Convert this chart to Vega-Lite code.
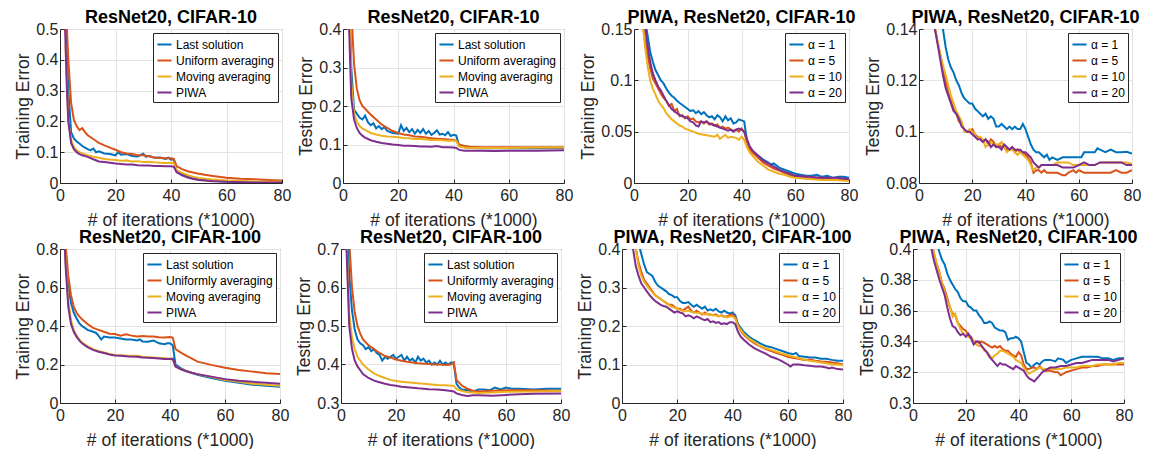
{
"$schema":"https://vega.github.io/schema/vega-lite/v6.json",
"background":"white",
"padding":{"left":14,"top":8,"right":0,"bottom":0},
"datasets":{
"p1":[
{"s":0,"x":2,"y":0.55},{"s":0,"x":3,"y":0.3},{"s":0,"x":4,"y":0.165},{"s":0,"x":5,"y":0.145},{"s":0,"x":6,"y":0.135},{"s":0,"x":7,"y":0.128},{"s":0,"x":8,"y":0.12},{"s":0,"x":9,"y":0.115},{"s":0,"x":10,"y":0.11},{"s":0,"x":11,"y":0.106},{"s":0,"x":12,"y":0.112},{"s":0,"x":13,"y":0.1},{"s":0,"x":14,"y":0.103},{"s":0,"x":16,"y":0.096},{"s":0,"x":18,"y":0.094},{"s":0,"x":20,"y":0.09},{"s":0,"x":21,"y":0.1},{"s":0,"x":22,"y":0.092},{"s":0,"x":24,"y":0.094},{"s":0,"x":26,"y":0.088},{"s":0,"x":28,"y":0.086},{"s":0,"x":30,"y":0.095},{"s":0,"x":31,"y":0.085},{"s":0,"x":32,"y":0.088},{"s":0,"x":34,"y":0.082},{"s":0,"x":36,"y":0.083},{"s":0,"x":38,"y":0.078},{"s":0,"x":39,"y":0.082},{"s":0,"x":40,"y":0.076},{"s":0,"x":41,"y":0.077},{"s":0,"x":42,"y":0.04},{"s":0,"x":44,"y":0.03},{"s":0,"x":46,"y":0.022},{"s":0,"x":48,"y":0.016},{"s":0,"x":50,"y":0.012},{"s":0,"x":55,"y":0.007},{"s":0,"x":60,"y":0.005},{"s":0,"x":70,"y":0.003},{"s":0,"x":80,"y":0.002},
{"s":1,"x":2,"y":0.6},{"s":1,"x":3,"y":0.4},{"s":1,"x":4,"y":0.26},{"s":1,"x":5,"y":0.205},{"s":1,"x":6,"y":0.185},{"s":1,"x":7,"y":0.172},{"s":1,"x":8,"y":0.178},{"s":1,"x":9,"y":0.165},{"s":1,"x":10,"y":0.155},{"s":1,"x":12,"y":0.143},{"s":1,"x":14,"y":0.13},{"s":1,"x":16,"y":0.122},{"s":1,"x":18,"y":0.115},{"s":1,"x":20,"y":0.108},{"s":1,"x":22,"y":0.1},{"s":1,"x":24,"y":0.096},{"s":1,"x":26,"y":0.094},{"s":1,"x":28,"y":0.09},{"s":1,"x":30,"y":0.09},{"s":1,"x":32,"y":0.087},{"s":1,"x":34,"y":0.083},{"s":1,"x":36,"y":0.082},{"s":1,"x":38,"y":0.08},{"s":1,"x":40,"y":0.08},{"s":1,"x":41,"y":0.078},{"s":1,"x":42,"y":0.055},{"s":1,"x":44,"y":0.045},{"s":1,"x":46,"y":0.038},{"s":1,"x":48,"y":0.034},{"s":1,"x":50,"y":0.03},{"s":1,"x":55,"y":0.023},{"s":1,"x":60,"y":0.017},{"s":1,"x":65,"y":0.014},{"s":1,"x":70,"y":0.012},{"s":1,"x":75,"y":0.01},{"s":1,"x":80,"y":0.008},
{"s":2,"x":2,"y":0.45},{"s":2,"x":3,"y":0.2},{"s":2,"x":4,"y":0.14},{"s":2,"x":5,"y":0.117},{"s":2,"x":6,"y":0.106},{"s":2,"x":7,"y":0.1},{"s":2,"x":8,"y":0.096},{"s":2,"x":10,"y":0.09},{"s":2,"x":12,"y":0.085},{"s":2,"x":14,"y":0.082},{"s":2,"x":16,"y":0.078},{"s":2,"x":18,"y":0.076},{"s":2,"x":20,"y":0.075},{"s":2,"x":22,"y":0.072},{"s":2,"x":24,"y":0.073},{"s":2,"x":26,"y":0.07},{"s":2,"x":28,"y":0.071},{"s":2,"x":30,"y":0.068},{"s":2,"x":32,"y":0.069},{"s":2,"x":34,"y":0.067},{"s":2,"x":36,"y":0.066},{"s":2,"x":38,"y":0.065},{"s":2,"x":40,"y":0.066},{"s":2,"x":41,"y":0.064},{"s":2,"x":42,"y":0.042},{"s":2,"x":44,"y":0.033},{"s":2,"x":46,"y":0.026},{"s":2,"x":48,"y":0.02},{"s":2,"x":50,"y":0.016},{"s":2,"x":55,"y":0.011},{"s":2,"x":60,"y":0.008},{"s":2,"x":70,"y":0.005},{"s":2,"x":80,"y":0.004},
{"s":3,"x":1.5,"y":0.6},{"s":3,"x":2.5,"y":0.3},{"s":3,"x":3,"y":0.2},{"s":3,"x":4,"y":0.13},{"s":3,"x":5,"y":0.11},{"s":3,"x":6,"y":0.1},{"s":3,"x":7,"y":0.094},{"s":3,"x":8,"y":0.09},{"s":3,"x":10,"y":0.085},{"s":3,"x":12,"y":0.077},{"s":3,"x":14,"y":0.07},{"s":3,"x":16,"y":0.068},{"s":3,"x":18,"y":0.066},{"s":3,"x":20,"y":0.063},{"s":3,"x":22,"y":0.062},{"s":3,"x":24,"y":0.06},{"s":3,"x":26,"y":0.06},{"s":3,"x":28,"y":0.058},{"s":3,"x":30,"y":0.057},{"s":3,"x":32,"y":0.057},{"s":3,"x":34,"y":0.055},{"s":3,"x":36,"y":0.055},{"s":3,"x":38,"y":0.054},{"s":3,"x":40,"y":0.054},{"s":3,"x":41,"y":0.053},{"s":3,"x":42,"y":0.035},{"s":3,"x":44,"y":0.025},{"s":3,"x":46,"y":0.018},{"s":3,"x":48,"y":0.013},{"s":3,"x":50,"y":0.01},{"s":3,"x":55,"y":0.006},{"s":3,"x":60,"y":0.004},{"s":3,"x":70,"y":0.002},{"s":3,"x":80,"y":0.002}
],
"p2":[
{"s":0,"x":2.5,"y":0.45},{"s":0,"x":3,"y":0.3},{"s":0,"x":4,"y":0.19},{"s":0,"x":5,"y":0.18},{"s":0,"x":6,"y":0.17},{"s":0,"x":7,"y":0.165},{"s":0,"x":8,"y":0.175},{"s":0,"x":9,"y":0.158},{"s":0,"x":10,"y":0.15},{"s":0,"x":11,"y":0.155},{"s":0,"x":12,"y":0.142},{"s":0,"x":13,"y":0.148},{"s":0,"x":14,"y":0.14},{"s":0,"x":15,"y":0.145},{"s":0,"x":16,"y":0.135},{"s":0,"x":18,"y":0.13},{"s":0,"x":20,"y":0.128},{"s":0,"x":21,"y":0.15},{"s":0,"x":22,"y":0.135},{"s":0,"x":23,"y":0.143},{"s":0,"x":24,"y":0.132},{"s":0,"x":25,"y":0.14},{"s":0,"x":26,"y":0.128},{"s":0,"x":27,"y":0.138},{"s":0,"x":28,"y":0.13},{"s":0,"x":29,"y":0.14},{"s":0,"x":30,"y":0.128},{"s":0,"x":31,"y":0.135},{"s":0,"x":32,"y":0.125},{"s":0,"x":33,"y":0.13},{"s":0,"x":34,"y":0.137},{"s":0,"x":35,"y":0.126},{"s":0,"x":36,"y":0.128},{"s":0,"x":37,"y":0.124},{"s":0,"x":38,"y":0.132},{"s":0,"x":39,"y":0.122},{"s":0,"x":40,"y":0.125},{"s":0,"x":41,"y":0.123},{"s":0,"x":42,"y":0.097},{"s":0,"x":44,"y":0.093},{"s":0,"x":46,"y":0.091},{"s":0,"x":50,"y":0.09},{"s":0,"x":55,"y":0.09},{"s":0,"x":60,"y":0.09},{"s":0,"x":70,"y":0.09},{"s":0,"x":80,"y":0.091},
{"s":1,"x":3,"y":0.45},{"s":1,"x":4,"y":0.31},{"s":1,"x":5,"y":0.245},{"s":1,"x":6,"y":0.215},{"s":1,"x":7,"y":0.2},{"s":1,"x":8,"y":0.193},{"s":1,"x":9,"y":0.185},{"s":1,"x":10,"y":0.178},{"s":1,"x":12,"y":0.165},{"s":1,"x":14,"y":0.152},{"s":1,"x":16,"y":0.143},{"s":1,"x":18,"y":0.135},{"s":1,"x":20,"y":0.13},{"s":1,"x":22,"y":0.126},{"s":1,"x":24,"y":0.124},{"s":1,"x":26,"y":0.121},{"s":1,"x":28,"y":0.12},{"s":1,"x":30,"y":0.118},{"s":1,"x":32,"y":0.116},{"s":1,"x":34,"y":0.115},{"s":1,"x":36,"y":0.114},{"s":1,"x":38,"y":0.113},{"s":1,"x":40,"y":0.112},{"s":1,"x":41,"y":0.11},{"s":1,"x":42,"y":0.1},{"s":1,"x":44,"y":0.096},{"s":1,"x":46,"y":0.094},{"s":1,"x":50,"y":0.093},{"s":1,"x":60,"y":0.093},{"s":1,"x":70,"y":0.093},{"s":1,"x":80,"y":0.093},
{"s":2,"x":2.5,"y":0.45},{"s":2,"x":3,"y":0.26},{"s":2,"x":4,"y":0.18},{"s":2,"x":5,"y":0.16},{"s":2,"x":6,"y":0.148},{"s":2,"x":7,"y":0.142},{"s":2,"x":8,"y":0.138},{"s":2,"x":10,"y":0.13},{"s":2,"x":12,"y":0.126},{"s":2,"x":14,"y":0.123},{"s":2,"x":16,"y":0.121},{"s":2,"x":18,"y":0.12},{"s":2,"x":20,"y":0.119},{"s":2,"x":22,"y":0.117},{"s":2,"x":24,"y":0.116},{"s":2,"x":26,"y":0.114},{"s":2,"x":28,"y":0.114},{"s":2,"x":30,"y":0.113},{"s":2,"x":32,"y":0.112},{"s":2,"x":34,"y":0.112},{"s":2,"x":36,"y":0.111},{"s":2,"x":38,"y":0.11},{"s":2,"x":40,"y":0.11},{"s":2,"x":41,"y":0.109},{"s":2,"x":42,"y":0.095},{"s":2,"x":44,"y":0.092},{"s":2,"x":46,"y":0.091},{"s":2,"x":50,"y":0.091},{"s":2,"x":60,"y":0.091},{"s":2,"x":70,"y":0.092},{"s":2,"x":80,"y":0.092},
{"s":3,"x":2,"y":0.45},{"s":3,"x":3,"y":0.22},{"s":3,"x":4,"y":0.165},{"s":3,"x":5,"y":0.143},{"s":3,"x":6,"y":0.13},{"s":3,"x":7,"y":0.123},{"s":3,"x":8,"y":0.118},{"s":3,"x":10,"y":0.111},{"s":3,"x":12,"y":0.107},{"s":3,"x":14,"y":0.104},{"s":3,"x":16,"y":0.102},{"s":3,"x":18,"y":0.1},{"s":3,"x":20,"y":0.099},{"s":3,"x":22,"y":0.097},{"s":3,"x":24,"y":0.097},{"s":3,"x":26,"y":0.096},{"s":3,"x":28,"y":0.095},{"s":3,"x":30,"y":0.095},{"s":3,"x":32,"y":0.094},{"s":3,"x":34,"y":0.096},{"s":3,"x":36,"y":0.093},{"s":3,"x":38,"y":0.093},{"s":3,"x":40,"y":0.092},{"s":3,"x":41,"y":0.091},{"s":3,"x":42,"y":0.086},{"s":3,"x":44,"y":0.084},{"s":3,"x":46,"y":0.084},{"s":3,"x":50,"y":0.084},{"s":3,"x":55,"y":0.083},{"s":3,"x":60,"y":0.084},{"s":3,"x":70,"y":0.084},{"s":3,"x":80,"y":0.085}
],
"p3":[
{"s":0,"x":3,"y":0.2},{"s":0,"x":4.5,"y":0.152},{"s":0,"x":5,"y":0.145},{"s":0,"x":6,"y":0.128},{"s":0,"x":7,"y":0.118},{"s":0,"x":8,"y":0.11},{"s":0,"x":9,"y":0.105},{"s":0,"x":10,"y":0.1},{"s":0,"x":11,"y":0.097},{"s":0,"x":12,"y":0.092},{"s":0,"x":13,"y":0.088},{"s":0,"x":14,"y":0.085},{"s":0,"x":15,"y":0.083},{"s":0,"x":16,"y":0.08},{"s":0,"x":17,"y":0.078},{"s":0,"x":18,"y":0.076},{"s":0,"x":19,"y":0.074},{"s":0,"x":20,"y":0.072},{"s":0,"x":21,"y":0.07},{"s":0,"x":22,"y":0.071},{"s":0,"x":23,"y":0.068},{"s":0,"x":24,"y":0.07},{"s":0,"x":25,"y":0.067},{"s":0,"x":26,"y":0.069},{"s":0,"x":27,"y":0.066},{"s":0,"x":28,"y":0.064},{"s":0,"x":29,"y":0.065},{"s":0,"x":30,"y":0.062},{"s":0,"x":31,"y":0.066},{"s":0,"x":32,"y":0.064},{"s":0,"x":33,"y":0.06},{"s":0,"x":34,"y":0.065},{"s":0,"x":35,"y":0.061},{"s":0,"x":36,"y":0.063},{"s":0,"x":37,"y":0.058},{"s":0,"x":38,"y":0.059},{"s":0,"x":39,"y":0.062},{"s":0,"x":40,"y":0.061},{"s":0,"x":41,"y":0.06},{"s":0,"x":42,"y":0.042},{"s":0,"x":43,"y":0.035},{"s":0,"x":44,"y":0.031},{"s":0,"x":46,"y":0.027},{"s":0,"x":48,"y":0.023},{"s":0,"x":50,"y":0.02},{"s":0,"x":51,"y":0.018},{"s":0,"x":52,"y":0.019},{"s":0,"x":54,"y":0.015},{"s":0,"x":56,"y":0.013},{"s":0,"x":58,"y":0.011},{"s":0,"x":60,"y":0.009},{"s":0,"x":62,"y":0.008},{"s":0,"x":64,"y":0.007},{"s":0,"x":66,"y":0.007},{"s":0,"x":68,"y":0.008},{"s":0,"x":70,"y":0.006},{"s":0,"x":72,"y":0.007},{"s":0,"x":74,"y":0.005},{"s":0,"x":76,"y":0.006},{"s":0,"x":78,"y":0.006},{"s":0,"x":80,"y":0.005},
{"s":1,"x":2,"y":0.2},{"s":1,"x":3.5,"y":0.15},{"s":1,"x":4,"y":0.14},{"s":1,"x":5,"y":0.125},{"s":1,"x":6,"y":0.112},{"s":1,"x":7,"y":0.102},{"s":1,"x":8,"y":0.097},{"s":1,"x":9,"y":0.092},{"s":1,"x":10,"y":0.087},{"s":1,"x":11,"y":0.083},{"s":1,"x":12,"y":0.08},{"s":1,"x":13,"y":0.075},{"s":1,"x":14,"y":0.077},{"s":1,"x":15,"y":0.07},{"s":1,"x":16,"y":0.072},{"s":1,"x":17,"y":0.065},{"s":1,"x":18,"y":0.066},{"s":1,"x":19,"y":0.063},{"s":1,"x":20,"y":0.065},{"s":1,"x":21,"y":0.062},{"s":1,"x":22,"y":0.063},{"s":1,"x":23,"y":0.06},{"s":1,"x":24,"y":0.059},{"s":1,"x":25,"y":0.06},{"s":1,"x":26,"y":0.058},{"s":1,"x":27,"y":0.06},{"s":1,"x":28,"y":0.057},{"s":1,"x":29,"y":0.058},{"s":1,"x":30,"y":0.056},{"s":1,"x":31,"y":0.057},{"s":1,"x":32,"y":0.054},{"s":1,"x":33,"y":0.055},{"s":1,"x":34,"y":0.053},{"s":1,"x":35,"y":0.054},{"s":1,"x":36,"y":0.052},{"s":1,"x":37,"y":0.051},{"s":1,"x":38,"y":0.052},{"s":1,"x":39,"y":0.05},{"s":1,"x":40,"y":0.053},{"s":1,"x":41,"y":0.05},{"s":1,"x":42,"y":0.04},{"s":1,"x":43,"y":0.033},{"s":1,"x":44,"y":0.03},{"s":1,"x":46,"y":0.025},{"s":1,"x":48,"y":0.02},{"s":1,"x":50,"y":0.017},{"s":1,"x":52,"y":0.014},{"s":1,"x":54,"y":0.012},{"s":1,"x":56,"y":0.01},{"s":1,"x":58,"y":0.008},{"s":1,"x":60,"y":0.006},{"s":1,"x":62,"y":0.005},{"s":1,"x":64,"y":0.005},{"s":1,"x":66,"y":0.004},{"s":1,"x":68,"y":0.004},{"s":1,"x":70,"y":0.004},{"s":1,"x":72,"y":0.004},{"s":1,"x":74,"y":0.004},{"s":1,"x":76,"y":0.003},{"s":1,"x":78,"y":0.003},{"s":1,"x":80,"y":0.003},
{"s":2,"x":2,"y":0.2},{"s":2,"x":3.5,"y":0.15},{"s":2,"x":4,"y":0.135},{"s":2,"x":5,"y":0.115},{"s":2,"x":6,"y":0.1},{"s":2,"x":7,"y":0.092},{"s":2,"x":8,"y":0.086},{"s":2,"x":9,"y":0.08},{"s":2,"x":10,"y":0.076},{"s":2,"x":11,"y":0.073},{"s":2,"x":12,"y":0.068},{"s":2,"x":13,"y":0.065},{"s":2,"x":14,"y":0.062},{"s":2,"x":15,"y":0.06},{"s":2,"x":16,"y":0.058},{"s":2,"x":17,"y":0.056},{"s":2,"x":18,"y":0.055},{"s":2,"x":19,"y":0.053},{"s":2,"x":20,"y":0.052},{"s":2,"x":22,"y":0.05},{"s":2,"x":24,"y":0.048},{"s":2,"x":26,"y":0.047},{"s":2,"x":28,"y":0.046},{"s":2,"x":30,"y":0.045},{"s":2,"x":31,"y":0.047},{"s":2,"x":32,"y":0.043},{"s":2,"x":33,"y":0.045},{"s":2,"x":34,"y":0.047},{"s":2,"x":35,"y":0.044},{"s":2,"x":36,"y":0.045},{"s":2,"x":38,"y":0.044},{"s":2,"x":39,"y":0.042},{"s":2,"x":40,"y":0.045},{"s":2,"x":41,"y":0.042},{"s":2,"x":42,"y":0.035},{"s":2,"x":43,"y":0.03},{"s":2,"x":44,"y":0.027},{"s":2,"x":46,"y":0.021},{"s":2,"x":48,"y":0.017},{"s":2,"x":50,"y":0.013},{"s":2,"x":52,"y":0.011},{"s":2,"x":54,"y":0.009},{"s":2,"x":56,"y":0.008},{"s":2,"x":58,"y":0.006},{"s":2,"x":60,"y":0.005},{"s":2,"x":65,"y":0.004},{"s":2,"x":70,"y":0.003},{"s":2,"x":75,"y":0.003},{"s":2,"x":80,"y":0.002},
{"s":3,"x":3,"y":0.2},{"s":3,"x":4,"y":0.155},{"s":3,"x":5,"y":0.135},{"s":3,"x":6,"y":0.118},{"s":3,"x":7,"y":0.107},{"s":3,"x":8,"y":0.1},{"s":3,"x":9,"y":0.094},{"s":3,"x":10,"y":0.09},{"s":3,"x":11,"y":0.085},{"s":3,"x":12,"y":0.08},{"s":3,"x":13,"y":0.076},{"s":3,"x":14,"y":0.072},{"s":3,"x":15,"y":0.07},{"s":3,"x":16,"y":0.068},{"s":3,"x":17,"y":0.066},{"s":3,"x":18,"y":0.065},{"s":3,"x":19,"y":0.064},{"s":3,"x":20,"y":0.063},{"s":3,"x":21,"y":0.06},{"s":3,"x":22,"y":0.059},{"s":3,"x":23,"y":0.056},{"s":3,"x":24,"y":0.055},{"s":3,"x":25,"y":0.06},{"s":3,"x":26,"y":0.059},{"s":3,"x":27,"y":0.06},{"s":3,"x":28,"y":0.058},{"s":3,"x":29,"y":0.057},{"s":3,"x":30,"y":0.056},{"s":3,"x":31,"y":0.055},{"s":3,"x":32,"y":0.054},{"s":3,"x":33,"y":0.053},{"s":3,"x":34,"y":0.052},{"s":3,"x":35,"y":0.051},{"s":3,"x":36,"y":0.052},{"s":3,"x":37,"y":0.05},{"s":3,"x":38,"y":0.052},{"s":3,"x":39,"y":0.053},{"s":3,"x":40,"y":0.052},{"s":3,"x":41,"y":0.05},{"s":3,"x":42,"y":0.043},{"s":3,"x":43,"y":0.036},{"s":3,"x":44,"y":0.032},{"s":3,"x":46,"y":0.027},{"s":3,"x":48,"y":0.022},{"s":3,"x":50,"y":0.019},{"s":3,"x":52,"y":0.016},{"s":3,"x":54,"y":0.013},{"s":3,"x":56,"y":0.011},{"s":3,"x":58,"y":0.009},{"s":3,"x":60,"y":0.007},{"s":3,"x":65,"y":0.006},{"s":3,"x":70,"y":0.005},{"s":3,"x":75,"y":0.005},{"s":3,"x":80,"y":0.004}
],
"p4":[
{"s":0,"x":7,"y":0.15},{"s":0,"x":9,"y":0.14},{"s":0,"x":10,"y":0.133},{"s":0,"x":11,"y":0.128},{"s":0,"x":12,"y":0.125},{"s":0,"x":13,"y":0.123},{"s":0,"x":14,"y":0.12},{"s":0,"x":15,"y":0.118},{"s":0,"x":16,"y":0.115},{"s":0,"x":17,"y":0.113},{"s":0,"x":18,"y":0.112},{"s":0,"x":19,"y":0.111},{"s":0,"x":20,"y":0.111},{"s":0,"x":21,"y":0.109},{"s":0,"x":22,"y":0.108},{"s":0,"x":23,"y":0.107},{"s":0,"x":24,"y":0.106},{"s":0,"x":25,"y":0.107},{"s":0,"x":26,"y":0.105},{"s":0,"x":27,"y":0.106},{"s":0,"x":28,"y":0.105},{"s":0,"x":29,"y":0.102},{"s":0,"x":30,"y":0.102},{"s":0,"x":31,"y":0.103},{"s":0,"x":32,"y":0.102},{"s":0,"x":33,"y":0.101},{"s":0,"x":34,"y":0.102},{"s":0,"x":35,"y":0.101},{"s":0,"x":36,"y":0.102},{"s":0,"x":37,"y":0.101},{"s":0,"x":38,"y":0.101},{"s":0,"x":39,"y":0.103},{"s":0,"x":40,"y":0.101},{"s":0,"x":41,"y":0.098},{"s":0,"x":42,"y":0.095},{"s":0,"x":43,"y":0.093},{"s":0,"x":44,"y":0.092},{"s":0,"x":45,"y":0.092},{"s":0,"x":46,"y":0.091},{"s":0,"x":47,"y":0.09},{"s":0,"x":48,"y":0.091},{"s":0,"x":49,"y":0.089},{"s":0,"x":50,"y":0.09},{"s":0,"x":52,"y":0.089},{"s":0,"x":54,"y":0.09},{"s":0,"x":56,"y":0.09},{"s":0,"x":58,"y":0.09},{"s":0,"x":60,"y":0.09},{"s":0,"x":61,"y":0.09},{"s":0,"x":62,"y":0.092},{"s":0,"x":64,"y":0.092},{"s":0,"x":66,"y":0.092},{"s":0,"x":67,"y":0.0935},{"s":0,"x":68,"y":0.093},{"s":0,"x":70,"y":0.092},{"s":0,"x":72,"y":0.093},{"s":0,"x":74,"y":0.092},{"s":0,"x":76,"y":0.092},{"s":0,"x":78,"y":0.0922},{"s":0,"x":80,"y":0.0915},
{"s":1,"x":5,"y":0.15},{"s":1,"x":6,"y":0.14},{"s":1,"x":7,"y":0.135},{"s":1,"x":8,"y":0.13},{"s":1,"x":9,"y":0.124},{"s":1,"x":10,"y":0.12},{"s":1,"x":11,"y":0.115},{"s":1,"x":12,"y":0.112},{"s":1,"x":13,"y":0.109},{"s":1,"x":14,"y":0.107},{"s":1,"x":15,"y":0.104},{"s":1,"x":16,"y":0.103},{"s":1,"x":17,"y":0.101},{"s":1,"x":18,"y":0.1},{"s":1,"x":19,"y":0.1},{"s":1,"x":20,"y":0.101},{"s":1,"x":21,"y":0.099},{"s":1,"x":22,"y":0.098},{"s":1,"x":23,"y":0.097},{"s":1,"x":24,"y":0.096},{"s":1,"x":25,"y":0.097},{"s":1,"x":26,"y":0.095},{"s":1,"x":27,"y":0.097},{"s":1,"x":28,"y":0.096},{"s":1,"x":29,"y":0.094},{"s":1,"x":30,"y":0.095},{"s":1,"x":31,"y":0.094},{"s":1,"x":32,"y":0.094},{"s":1,"x":33,"y":0.093},{"s":1,"x":34,"y":0.093},{"s":1,"x":35,"y":0.094},{"s":1,"x":36,"y":0.092},{"s":1,"x":37,"y":0.093},{"s":1,"x":38,"y":0.092},{"s":1,"x":39,"y":0.092},{"s":1,"x":40,"y":0.091},{"s":1,"x":41,"y":0.09},{"s":1,"x":42,"y":0.088},{"s":1,"x":43,"y":0.084},{"s":1,"x":44,"y":0.085},{"s":1,"x":45,"y":0.085},{"s":1,"x":46,"y":0.084},{"s":1,"x":47,"y":0.085},{"s":1,"x":48,"y":0.084},{"s":1,"x":50,"y":0.084},{"s":1,"x":52,"y":0.084},{"s":1,"x":54,"y":0.083},{"s":1,"x":55,"y":0.083},{"s":1,"x":56,"y":0.084},{"s":1,"x":58,"y":0.085},{"s":1,"x":59,"y":0.084},{"s":1,"x":60,"y":0.085},{"s":1,"x":62,"y":0.084},{"s":1,"x":64,"y":0.084},{"s":1,"x":66,"y":0.084},{"s":1,"x":68,"y":0.084},{"s":1,"x":70,"y":0.084},{"s":1,"x":72,"y":0.084},{"s":1,"x":74,"y":0.085},{"s":1,"x":76,"y":0.084},{"s":1,"x":78,"y":0.084},{"s":1,"x":80,"y":0.085},
{"s":2,"x":5,"y":0.15},{"s":2,"x":6,"y":0.14},{"s":2,"x":7,"y":0.135},{"s":2,"x":8,"y":0.13},{"s":2,"x":9,"y":0.126},{"s":2,"x":10,"y":0.122},{"s":2,"x":11,"y":0.118},{"s":2,"x":12,"y":0.114},{"s":2,"x":13,"y":0.111},{"s":2,"x":14,"y":0.108},{"s":2,"x":15,"y":0.106},{"s":2,"x":16,"y":0.104},{"s":2,"x":17,"y":0.1},{"s":2,"x":18,"y":0.1},{"s":2,"x":19,"y":0.101},{"s":2,"x":20,"y":0.1},{"s":2,"x":21,"y":0.099},{"s":2,"x":22,"y":0.097},{"s":2,"x":23,"y":0.098},{"s":2,"x":24,"y":0.097},{"s":2,"x":25,"y":0.094},{"s":2,"x":26,"y":0.095},{"s":2,"x":27,"y":0.096},{"s":2,"x":28,"y":0.095},{"s":2,"x":29,"y":0.095},{"s":2,"x":30,"y":0.095},{"s":2,"x":31,"y":0.096},{"s":2,"x":32,"y":0.094},{"s":2,"x":33,"y":0.092},{"s":2,"x":34,"y":0.093},{"s":2,"x":35,"y":0.093},{"s":2,"x":36,"y":0.092},{"s":2,"x":37,"y":0.091},{"s":2,"x":38,"y":0.092},{"s":2,"x":39,"y":0.091},{"s":2,"x":40,"y":0.09},{"s":2,"x":41,"y":0.089},{"s":2,"x":42,"y":0.087},{"s":2,"x":43,"y":0.085},{"s":2,"x":44,"y":0.086},{"s":2,"x":45,"y":0.086},{"s":2,"x":46,"y":0.087},{"s":2,"x":48,"y":0.087},{"s":2,"x":50,"y":0.087},{"s":2,"x":52,"y":0.088},{"s":2,"x":54,"y":0.088},{"s":2,"x":56,"y":0.088},{"s":2,"x":58,"y":0.087},{"s":2,"x":60,"y":0.087},{"s":2,"x":62,"y":0.087},{"s":2,"x":64,"y":0.087},{"s":2,"x":66,"y":0.087},{"s":2,"x":68,"y":0.088},{"s":2,"x":70,"y":0.088},{"s":2,"x":72,"y":0.088},{"s":2,"x":74,"y":0.088},{"s":2,"x":76,"y":0.088},{"s":2,"x":78,"y":0.088},{"s":2,"x":80,"y":0.0875},
{"s":3,"x":5,"y":0.15},{"s":3,"x":6,"y":0.14},{"s":3,"x":7,"y":0.134},{"s":3,"x":8,"y":0.128},{"s":3,"x":9,"y":0.122},{"s":3,"x":10,"y":0.117},{"s":3,"x":11,"y":0.114},{"s":3,"x":12,"y":0.111},{"s":3,"x":13,"y":0.108},{"s":3,"x":14,"y":0.107},{"s":3,"x":15,"y":0.105},{"s":3,"x":16,"y":0.102},{"s":3,"x":17,"y":0.101},{"s":3,"x":18,"y":0.1},{"s":3,"x":19,"y":0.1},{"s":3,"x":20,"y":0.099},{"s":3,"x":21,"y":0.098},{"s":3,"x":22,"y":0.097},{"s":3,"x":23,"y":0.097},{"s":3,"x":24,"y":0.096},{"s":3,"x":25,"y":0.097},{"s":3,"x":26,"y":0.096},{"s":3,"x":27,"y":0.094},{"s":3,"x":28,"y":0.095},{"s":3,"x":29,"y":0.094},{"s":3,"x":30,"y":0.094},{"s":3,"x":31,"y":0.093},{"s":3,"x":32,"y":0.095},{"s":3,"x":33,"y":0.094},{"s":3,"x":34,"y":0.093},{"s":3,"x":35,"y":0.094},{"s":3,"x":36,"y":0.093},{"s":3,"x":37,"y":0.093},{"s":3,"x":38,"y":0.093},{"s":3,"x":39,"y":0.092},{"s":3,"x":40,"y":0.092},{"s":3,"x":41,"y":0.091},{"s":3,"x":42,"y":0.09},{"s":3,"x":43,"y":0.088},{"s":3,"x":44,"y":0.087},{"s":3,"x":45,"y":0.086},{"s":3,"x":46,"y":0.087},{"s":3,"x":48,"y":0.087},{"s":3,"x":50,"y":0.087},{"s":3,"x":52,"y":0.087},{"s":3,"x":54,"y":0.086},{"s":3,"x":56,"y":0.086},{"s":3,"x":58,"y":0.086},{"s":3,"x":60,"y":0.087},{"s":3,"x":62,"y":0.088},{"s":3,"x":64,"y":0.087},{"s":3,"x":66,"y":0.087},{"s":3,"x":68,"y":0.088},{"s":3,"x":70,"y":0.088},{"s":3,"x":72,"y":0.088},{"s":3,"x":74,"y":0.088},{"s":3,"x":76,"y":0.088},{"s":3,"x":78,"y":0.087},{"s":3,"x":80,"y":0.087}
],
"p5":[
{"s":0,"x":1.5,"y":0.9},{"s":0,"x":2,"y":0.8},{"s":0,"x":3,"y":0.61},{"s":0,"x":4,"y":0.52},{"s":0,"x":5,"y":0.47},{"s":0,"x":6,"y":0.44},{"s":0,"x":7,"y":0.415},{"s":0,"x":8,"y":0.4},{"s":0,"x":9,"y":0.39},{"s":0,"x":10,"y":0.38},{"s":0,"x":11,"y":0.375},{"s":0,"x":12,"y":0.37},{"s":0,"x":13,"y":0.365},{"s":0,"x":14,"y":0.35},{"s":0,"x":15,"y":0.33},{"s":0,"x":16,"y":0.345},{"s":0,"x":18,"y":0.34},{"s":0,"x":20,"y":0.34},{"s":0,"x":22,"y":0.335},{"s":0,"x":24,"y":0.33},{"s":0,"x":26,"y":0.33},{"s":0,"x":28,"y":0.325},{"s":0,"x":29,"y":0.33},{"s":0,"x":30,"y":0.32},{"s":0,"x":32,"y":0.318},{"s":0,"x":34,"y":0.325},{"s":0,"x":36,"y":0.31},{"s":0,"x":38,"y":0.305},{"s":0,"x":39,"y":0.31},{"s":0,"x":40,"y":0.31},{"s":0,"x":41,"y":0.3},{"s":0,"x":42,"y":0.2},{"s":0,"x":44,"y":0.18},{"s":0,"x":46,"y":0.165},{"s":0,"x":48,"y":0.155},{"s":0,"x":50,"y":0.147},{"s":0,"x":55,"y":0.13},{"s":0,"x":60,"y":0.115},{"s":0,"x":65,"y":0.105},{"s":0,"x":70,"y":0.095},{"s":0,"x":75,"y":0.09},{"s":0,"x":80,"y":0.085},
{"s":1,"x":1.5,"y":0.9},{"s":1,"x":2.5,"y":0.75},{"s":1,"x":3,"y":0.66},{"s":1,"x":4,"y":0.56},{"s":1,"x":5,"y":0.5},{"s":1,"x":6,"y":0.47},{"s":1,"x":7,"y":0.45},{"s":1,"x":8,"y":0.435},{"s":1,"x":10,"y":0.41},{"s":1,"x":12,"y":0.39},{"s":1,"x":14,"y":0.38},{"s":1,"x":16,"y":0.37},{"s":1,"x":18,"y":0.36},{"s":1,"x":20,"y":0.358},{"s":1,"x":22,"y":0.35},{"s":1,"x":24,"y":0.357},{"s":1,"x":26,"y":0.35},{"s":1,"x":28,"y":0.345},{"s":1,"x":30,"y":0.348},{"s":1,"x":32,"y":0.345},{"s":1,"x":34,"y":0.345},{"s":1,"x":36,"y":0.342},{"s":1,"x":38,"y":0.34},{"s":1,"x":40,"y":0.343},{"s":1,"x":41,"y":0.34},{"s":1,"x":42,"y":0.28},{"s":1,"x":44,"y":0.262},{"s":1,"x":46,"y":0.245},{"s":1,"x":48,"y":0.23},{"s":1,"x":50,"y":0.215},{"s":1,"x":55,"y":0.198},{"s":1,"x":60,"y":0.183},{"s":1,"x":65,"y":0.172},{"s":1,"x":70,"y":0.163},{"s":1,"x":75,"y":0.155},{"s":1,"x":80,"y":0.15},
{"s":2,"x":1.5,"y":0.9},{"s":2,"x":2,"y":0.75},{"s":2,"x":3,"y":0.53},{"s":2,"x":4,"y":0.43},{"s":2,"x":5,"y":0.38},{"s":2,"x":6,"y":0.35},{"s":2,"x":7,"y":0.33},{"s":2,"x":8,"y":0.315},{"s":2,"x":10,"y":0.295},{"s":2,"x":12,"y":0.28},{"s":2,"x":14,"y":0.27},{"s":2,"x":16,"y":0.262},{"s":2,"x":18,"y":0.255},{"s":2,"x":20,"y":0.25},{"s":2,"x":22,"y":0.248},{"s":2,"x":25,"y":0.245},{"s":2,"x":28,"y":0.245},{"s":2,"x":30,"y":0.24},{"s":2,"x":32,"y":0.238},{"s":2,"x":35,"y":0.235},{"s":2,"x":38,"y":0.232},{"s":2,"x":40,"y":0.23},{"s":2,"x":41,"y":0.225},{"s":2,"x":42,"y":0.19},{"s":2,"x":44,"y":0.175},{"s":2,"x":46,"y":0.165},{"s":2,"x":48,"y":0.157},{"s":2,"x":50,"y":0.15},{"s":2,"x":55,"y":0.135},{"s":2,"x":60,"y":0.12},{"s":2,"x":65,"y":0.11},{"s":2,"x":70,"y":0.1},{"s":2,"x":75,"y":0.095},{"s":2,"x":80,"y":0.09},
{"s":3,"x":1.5,"y":0.9},{"s":3,"x":2,"y":0.72},{"s":3,"x":3,"y":0.5},{"s":3,"x":4,"y":0.41},{"s":3,"x":5,"y":0.37},{"s":3,"x":6,"y":0.345},{"s":3,"x":7,"y":0.325},{"s":3,"x":8,"y":0.31},{"s":3,"x":10,"y":0.29},{"s":3,"x":12,"y":0.276},{"s":3,"x":14,"y":0.266},{"s":3,"x":16,"y":0.26},{"s":3,"x":18,"y":0.252},{"s":3,"x":20,"y":0.247},{"s":3,"x":22,"y":0.245},{"s":3,"x":25,"y":0.242},{"s":3,"x":28,"y":0.24},{"s":3,"x":30,"y":0.236},{"s":3,"x":32,"y":0.235},{"s":3,"x":35,"y":0.232},{"s":3,"x":38,"y":0.228},{"s":3,"x":40,"y":0.228},{"s":3,"x":41,"y":0.23},{"s":3,"x":42,"y":0.19},{"s":3,"x":44,"y":0.175},{"s":3,"x":46,"y":0.165},{"s":3,"x":48,"y":0.157},{"s":3,"x":50,"y":0.15},{"s":3,"x":55,"y":0.137},{"s":3,"x":60,"y":0.124},{"s":3,"x":65,"y":0.116},{"s":3,"x":70,"y":0.11},{"s":3,"x":75,"y":0.105},{"s":3,"x":80,"y":0.1}
],
"p6":[
{"s":0,"x":2,"y":0.8},{"s":0,"x":3,"y":0.63},{"s":0,"x":4,"y":0.54},{"s":0,"x":5,"y":0.49},{"s":0,"x":6,"y":0.465},{"s":0,"x":7,"y":0.455},{"s":0,"x":8,"y":0.45},{"s":0,"x":9,"y":0.44},{"s":0,"x":10,"y":0.445},{"s":0,"x":11,"y":0.435},{"s":0,"x":12,"y":0.44},{"s":0,"x":13,"y":0.43},{"s":0,"x":14,"y":0.425},{"s":0,"x":15,"y":0.41},{"s":0,"x":16,"y":0.42},{"s":0,"x":17,"y":0.415},{"s":0,"x":18,"y":0.42},{"s":0,"x":19,"y":0.425},{"s":0,"x":20,"y":0.415},{"s":0,"x":21,"y":0.42},{"s":0,"x":22,"y":0.425},{"s":0,"x":23,"y":0.41},{"s":0,"x":24,"y":0.42},{"s":0,"x":25,"y":0.41},{"s":0,"x":26,"y":0.415},{"s":0,"x":27,"y":0.405},{"s":0,"x":28,"y":0.42},{"s":0,"x":29,"y":0.41},{"s":0,"x":30,"y":0.415},{"s":0,"x":31,"y":0.405},{"s":0,"x":32,"y":0.41},{"s":0,"x":33,"y":0.4},{"s":0,"x":34,"y":0.405},{"s":0,"x":35,"y":0.4},{"s":0,"x":36,"y":0.41},{"s":0,"x":37,"y":0.4},{"s":0,"x":38,"y":0.405},{"s":0,"x":39,"y":0.4},{"s":0,"x":40,"y":0.405},{"s":0,"x":41,"y":0.405},{"s":0,"x":42,"y":0.35},{"s":0,"x":43,"y":0.34},{"s":0,"x":44,"y":0.335},{"s":0,"x":46,"y":0.333},{"s":0,"x":48,"y":0.33},{"s":0,"x":50,"y":0.335},{"s":0,"x":52,"y":0.335},{"s":0,"x":54,"y":0.333},{"s":0,"x":56,"y":0.34},{"s":0,"x":58,"y":0.335},{"s":0,"x":60,"y":0.34},{"s":0,"x":62,"y":0.337},{"s":0,"x":65,"y":0.337},{"s":0,"x":70,"y":0.335},{"s":0,"x":75,"y":0.337},{"s":0,"x":80,"y":0.337},
{"s":1,"x":2.5,"y":0.8},{"s":1,"x":3,"y":0.72},{"s":1,"x":4,"y":0.6},{"s":1,"x":5,"y":0.535},{"s":1,"x":6,"y":0.5},{"s":1,"x":7,"y":0.48},{"s":1,"x":8,"y":0.465},{"s":1,"x":10,"y":0.45},{"s":1,"x":12,"y":0.44},{"s":1,"x":14,"y":0.43},{"s":1,"x":16,"y":0.422},{"s":1,"x":18,"y":0.418},{"s":1,"x":20,"y":0.413},{"s":1,"x":22,"y":0.41},{"s":1,"x":24,"y":0.407},{"s":1,"x":26,"y":0.405},{"s":1,"x":28,"y":0.403},{"s":1,"x":30,"y":0.402},{"s":1,"x":32,"y":0.401},{"s":1,"x":34,"y":0.4},{"s":1,"x":36,"y":0.4},{"s":1,"x":38,"y":0.399},{"s":1,"x":40,"y":0.4},{"s":1,"x":41,"y":0.405},{"s":1,"x":42,"y":0.36},{"s":1,"x":44,"y":0.345},{"s":1,"x":46,"y":0.337},{"s":1,"x":48,"y":0.332},{"s":1,"x":50,"y":0.33},{"s":1,"x":55,"y":0.332},{"s":1,"x":60,"y":0.333},{"s":1,"x":70,"y":0.333},{"s":1,"x":80,"y":0.332},
{"s":2,"x":2,"y":0.72},{"s":2,"x":3,"y":0.53},{"s":2,"x":4,"y":0.47},{"s":2,"x":5,"y":0.44},{"s":2,"x":6,"y":0.42},{"s":2,"x":7,"y":0.41},{"s":2,"x":8,"y":0.4},{"s":2,"x":10,"y":0.387},{"s":2,"x":12,"y":0.377},{"s":2,"x":14,"y":0.37},{"s":2,"x":16,"y":0.365},{"s":2,"x":18,"y":0.36},{"s":2,"x":20,"y":0.357},{"s":2,"x":22,"y":0.355},{"s":2,"x":25,"y":0.353},{"s":2,"x":28,"y":0.351},{"s":2,"x":30,"y":0.35},{"s":2,"x":32,"y":0.349},{"s":2,"x":35,"y":0.347},{"s":2,"x":38,"y":0.346},{"s":2,"x":40,"y":0.345},{"s":2,"x":41,"y":0.345},{"s":2,"x":42,"y":0.336},{"s":2,"x":44,"y":0.331},{"s":2,"x":46,"y":0.328},{"s":2,"x":48,"y":0.327},{"s":2,"x":50,"y":0.326},{"s":2,"x":55,"y":0.327},{"s":2,"x":60,"y":0.329},{"s":2,"x":70,"y":0.33},{"s":2,"x":80,"y":0.331},
{"s":3,"x":1.5,"y":0.75},{"s":3,"x":2,"y":0.7},{"s":3,"x":3,"y":0.5},{"s":3,"x":4,"y":0.44},{"s":3,"x":5,"y":0.41},{"s":3,"x":6,"y":0.395},{"s":3,"x":7,"y":0.385},{"s":3,"x":8,"y":0.375},{"s":3,"x":10,"y":0.365},{"s":3,"x":12,"y":0.358},{"s":3,"x":14,"y":0.354},{"s":3,"x":16,"y":0.35},{"s":3,"x":18,"y":0.347},{"s":3,"x":20,"y":0.345},{"s":3,"x":22,"y":0.342},{"s":3,"x":25,"y":0.34},{"s":3,"x":28,"y":0.338},{"s":3,"x":30,"y":0.337},{"s":3,"x":32,"y":0.336},{"s":3,"x":35,"y":0.335},{"s":3,"x":38,"y":0.333},{"s":3,"x":40,"y":0.331},{"s":3,"x":41,"y":0.33},{"s":3,"x":42,"y":0.325},{"s":3,"x":44,"y":0.321},{"s":3,"x":46,"y":0.318},{"s":3,"x":48,"y":0.32},{"s":3,"x":50,"y":0.32},{"s":3,"x":55,"y":0.319},{"s":3,"x":60,"y":0.321},{"s":3,"x":65,"y":0.323},{"s":3,"x":70,"y":0.324},{"s":3,"x":80,"y":0.325}
],
"p7":[
{"s":0,"x":5,"y":0.45},{"s":0,"x":6.5,"y":0.4},{"s":0,"x":8,"y":0.36},{"s":0,"x":9,"y":0.34},{"s":0,"x":10,"y":0.335},{"s":0,"x":11,"y":0.33},{"s":0,"x":12,"y":0.315},{"s":0,"x":13,"y":0.305},{"s":0,"x":14,"y":0.3},{"s":0,"x":15,"y":0.295},{"s":0,"x":16,"y":0.29},{"s":0,"x":17,"y":0.283},{"s":0,"x":18,"y":0.28},{"s":0,"x":19,"y":0.275},{"s":0,"x":20,"y":0.275},{"s":0,"x":21,"y":0.265},{"s":0,"x":22,"y":0.26},{"s":0,"x":23,"y":0.26},{"s":0,"x":24,"y":0.262},{"s":0,"x":25,"y":0.255},{"s":0,"x":26,"y":0.25},{"s":0,"x":27,"y":0.255},{"s":0,"x":28,"y":0.25},{"s":0,"x":29,"y":0.245},{"s":0,"x":30,"y":0.25},{"s":0,"x":31,"y":0.24},{"s":0,"x":32,"y":0.243},{"s":0,"x":33,"y":0.24},{"s":0,"x":34,"y":0.245},{"s":0,"x":35,"y":0.238},{"s":0,"x":36,"y":0.235},{"s":0,"x":37,"y":0.24},{"s":0,"x":38,"y":0.235},{"s":0,"x":39,"y":0.232},{"s":0,"x":40,"y":0.235},{"s":0,"x":41,"y":0.228},{"s":0,"x":42,"y":0.205},{"s":0,"x":43,"y":0.195},{"s":0,"x":44,"y":0.185},{"s":0,"x":46,"y":0.172},{"s":0,"x":48,"y":0.163},{"s":0,"x":50,"y":0.155},{"s":0,"x":52,"y":0.148},{"s":0,"x":54,"y":0.145},{"s":0,"x":56,"y":0.14},{"s":0,"x":58,"y":0.135},{"s":0,"x":60,"y":0.13},{"s":0,"x":62,"y":0.127},{"s":0,"x":63,"y":0.13},{"s":0,"x":64,"y":0.122},{"s":0,"x":66,"y":0.12},{"s":0,"x":68,"y":0.118},{"s":0,"x":70,"y":0.118},{"s":0,"x":72,"y":0.115},{"s":0,"x":74,"y":0.115},{"s":0,"x":76,"y":0.112},{"s":0,"x":78,"y":0.11},{"s":0,"x":80,"y":0.11},
{"s":1,"x":4,"y":0.45},{"s":1,"x":5,"y":0.4},{"s":1,"x":6,"y":0.365},{"s":1,"x":7,"y":0.34},{"s":1,"x":8,"y":0.32},{"s":1,"x":9,"y":0.31},{"s":1,"x":10,"y":0.3},{"s":1,"x":11,"y":0.29},{"s":1,"x":12,"y":0.28},{"s":1,"x":13,"y":0.275},{"s":1,"x":14,"y":0.27},{"s":1,"x":15,"y":0.265},{"s":1,"x":16,"y":0.26},{"s":1,"x":17,"y":0.255},{"s":1,"x":18,"y":0.255},{"s":1,"x":19,"y":0.25},{"s":1,"x":20,"y":0.245},{"s":1,"x":21,"y":0.245},{"s":1,"x":22,"y":0.24},{"s":1,"x":23,"y":0.245},{"s":1,"x":24,"y":0.25},{"s":1,"x":25,"y":0.24},{"s":1,"x":26,"y":0.235},{"s":1,"x":27,"y":0.24},{"s":1,"x":28,"y":0.235},{"s":1,"x":29,"y":0.23},{"s":1,"x":30,"y":0.235},{"s":1,"x":31,"y":0.23},{"s":1,"x":32,"y":0.23},{"s":1,"x":33,"y":0.228},{"s":1,"x":34,"y":0.23},{"s":1,"x":35,"y":0.225},{"s":1,"x":36,"y":0.228},{"s":1,"x":37,"y":0.225},{"s":1,"x":38,"y":0.225},{"s":1,"x":39,"y":0.228},{"s":1,"x":40,"y":0.23},{"s":1,"x":41,"y":0.222},{"s":1,"x":42,"y":0.2},{"s":1,"x":43,"y":0.188},{"s":1,"x":44,"y":0.178},{"s":1,"x":46,"y":0.165},{"s":1,"x":48,"y":0.155},{"s":1,"x":50,"y":0.147},{"s":1,"x":52,"y":0.14},{"s":1,"x":54,"y":0.135},{"s":1,"x":56,"y":0.13},{"s":1,"x":58,"y":0.125},{"s":1,"x":60,"y":0.12},{"s":1,"x":62,"y":0.117},{"s":1,"x":64,"y":0.115},{"s":1,"x":66,"y":0.112},{"s":1,"x":68,"y":0.113},{"s":1,"x":70,"y":0.11},{"s":1,"x":72,"y":0.108},{"s":1,"x":74,"y":0.107},{"s":1,"x":76,"y":0.105},{"s":1,"x":78,"y":0.103},{"s":1,"x":80,"y":0.1},
{"s":2,"x":4,"y":0.45},{"s":2,"x":5,"y":0.4},{"s":2,"x":6,"y":0.355},{"s":2,"x":7,"y":0.33},{"s":2,"x":8,"y":0.315},{"s":2,"x":9,"y":0.305},{"s":2,"x":10,"y":0.295},{"s":2,"x":11,"y":0.288},{"s":2,"x":12,"y":0.28},{"s":2,"x":13,"y":0.275},{"s":2,"x":14,"y":0.27},{"s":2,"x":15,"y":0.265},{"s":2,"x":16,"y":0.26},{"s":2,"x":17,"y":0.255},{"s":2,"x":18,"y":0.25},{"s":2,"x":19,"y":0.248},{"s":2,"x":20,"y":0.245},{"s":2,"x":21,"y":0.242},{"s":2,"x":22,"y":0.24},{"s":2,"x":23,"y":0.238},{"s":2,"x":24,"y":0.24},{"s":2,"x":25,"y":0.237},{"s":2,"x":26,"y":0.236},{"s":2,"x":27,"y":0.234},{"s":2,"x":28,"y":0.235},{"s":2,"x":29,"y":0.232},{"s":2,"x":30,"y":0.23},{"s":2,"x":31,"y":0.232},{"s":2,"x":32,"y":0.23},{"s":2,"x":33,"y":0.228},{"s":2,"x":34,"y":0.227},{"s":2,"x":35,"y":0.226},{"s":2,"x":36,"y":0.226},{"s":2,"x":37,"y":0.224},{"s":2,"x":38,"y":0.222},{"s":2,"x":39,"y":0.225},{"s":2,"x":40,"y":0.225},{"s":2,"x":41,"y":0.22},{"s":2,"x":42,"y":0.2},{"s":2,"x":43,"y":0.19},{"s":2,"x":44,"y":0.18},{"s":2,"x":46,"y":0.167},{"s":2,"x":48,"y":0.158},{"s":2,"x":50,"y":0.148},{"s":2,"x":52,"y":0.142},{"s":2,"x":54,"y":0.138},{"s":2,"x":56,"y":0.133},{"s":2,"x":58,"y":0.128},{"s":2,"x":60,"y":0.124},{"s":2,"x":62,"y":0.12},{"s":2,"x":64,"y":0.117},{"s":2,"x":66,"y":0.113},{"s":2,"x":68,"y":0.11},{"s":2,"x":70,"y":0.108},{"s":2,"x":72,"y":0.105},{"s":2,"x":74,"y":0.103},{"s":2,"x":76,"y":0.1},{"s":2,"x":78,"y":0.1},{"s":2,"x":80,"y":0.098},
{"s":3,"x":3,"y":0.45},{"s":3,"x":4,"y":0.4},{"s":3,"x":5,"y":0.355},{"s":3,"x":6,"y":0.33},{"s":3,"x":7,"y":0.31},{"s":3,"x":8,"y":0.3},{"s":3,"x":9,"y":0.29},{"s":3,"x":10,"y":0.28},{"s":3,"x":11,"y":0.272},{"s":3,"x":12,"y":0.265},{"s":3,"x":13,"y":0.26},{"s":3,"x":14,"y":0.255},{"s":3,"x":15,"y":0.252},{"s":3,"x":16,"y":0.25},{"s":3,"x":17,"y":0.245},{"s":3,"x":18,"y":0.24},{"s":3,"x":19,"y":0.235},{"s":3,"x":20,"y":0.238},{"s":3,"x":21,"y":0.235},{"s":3,"x":22,"y":0.233},{"s":3,"x":23,"y":0.225},{"s":3,"x":24,"y":0.228},{"s":3,"x":25,"y":0.225},{"s":3,"x":26,"y":0.22},{"s":3,"x":27,"y":0.225},{"s":3,"x":28,"y":0.222},{"s":3,"x":29,"y":0.218},{"s":3,"x":30,"y":0.215},{"s":3,"x":31,"y":0.218},{"s":3,"x":32,"y":0.21},{"s":3,"x":33,"y":0.212},{"s":3,"x":34,"y":0.208},{"s":3,"x":35,"y":0.21},{"s":3,"x":36,"y":0.205},{"s":3,"x":37,"y":0.207},{"s":3,"x":38,"y":0.205},{"s":3,"x":39,"y":0.21},{"s":3,"x":40,"y":0.21},{"s":3,"x":41,"y":0.205},{"s":3,"x":42,"y":0.185},{"s":3,"x":43,"y":0.172},{"s":3,"x":44,"y":0.165},{"s":3,"x":46,"y":0.152},{"s":3,"x":48,"y":0.142},{"s":3,"x":50,"y":0.135},{"s":3,"x":52,"y":0.128},{"s":3,"x":54,"y":0.12},{"s":3,"x":56,"y":0.115},{"s":3,"x":58,"y":0.108},{"s":3,"x":60,"y":0.1},{"s":3,"x":61,"y":0.095},{"s":3,"x":62,"y":0.1},{"s":3,"x":64,"y":0.1},{"s":3,"x":66,"y":0.098},{"s":3,"x":68,"y":0.097},{"s":3,"x":70,"y":0.095},{"s":3,"x":72,"y":0.095},{"s":3,"x":74,"y":0.092},{"s":3,"x":75,"y":0.09},{"s":3,"x":76,"y":0.092},{"s":3,"x":78,"y":0.088},{"s":3,"x":80,"y":0.087}
],
"p8":[
{"s":0,"x":8,"y":0.42},{"s":0,"x":9,"y":0.405},{"s":0,"x":10,"y":0.398},{"s":0,"x":11,"y":0.393},{"s":0,"x":12,"y":0.39},{"s":0,"x":13,"y":0.384},{"s":0,"x":14,"y":0.38},{"s":0,"x":15,"y":0.377},{"s":0,"x":16,"y":0.374},{"s":0,"x":17,"y":0.372},{"s":0,"x":18,"y":0.368},{"s":0,"x":19,"y":0.366},{"s":0,"x":20,"y":0.366},{"s":0,"x":21,"y":0.363},{"s":0,"x":22,"y":0.362},{"s":0,"x":23,"y":0.36},{"s":0,"x":24,"y":0.36},{"s":0,"x":25,"y":0.357},{"s":0,"x":26,"y":0.355},{"s":0,"x":27,"y":0.352},{"s":0,"x":28,"y":0.352},{"s":0,"x":29,"y":0.353},{"s":0,"x":30,"y":0.352},{"s":0,"x":31,"y":0.349},{"s":0,"x":32,"y":0.348},{"s":0,"x":33,"y":0.347},{"s":0,"x":34,"y":0.347},{"s":0,"x":35,"y":0.346},{"s":0,"x":36,"y":0.341},{"s":0,"x":37,"y":0.342},{"s":0,"x":38,"y":0.342},{"s":0,"x":39,"y":0.343},{"s":0,"x":40,"y":0.342},{"s":0,"x":41,"y":0.34},{"s":0,"x":42,"y":0.333},{"s":0,"x":43,"y":0.326},{"s":0,"x":44,"y":0.325},{"s":0,"x":45,"y":0.323},{"s":0,"x":46,"y":0.325},{"s":0,"x":47,"y":0.326},{"s":0,"x":48,"y":0.325},{"s":0,"x":49,"y":0.327},{"s":0,"x":50,"y":0.328},{"s":0,"x":52,"y":0.328},{"s":0,"x":54,"y":0.327},{"s":0,"x":55,"y":0.329},{"s":0,"x":57,"y":0.328},{"s":0,"x":58,"y":0.326},{"s":0,"x":59,"y":0.327},{"s":0,"x":60,"y":0.328},{"s":0,"x":62,"y":0.329},{"s":0,"x":64,"y":0.33},{"s":0,"x":66,"y":0.33},{"s":0,"x":68,"y":0.33},{"s":0,"x":70,"y":0.33},{"s":0,"x":72,"y":0.329},{"s":0,"x":74,"y":0.329},{"s":0,"x":76,"y":0.328},{"s":0,"x":78,"y":0.329},{"s":0,"x":80,"y":0.329},
{"s":1,"x":6,"y":0.42},{"s":1,"x":7,"y":0.405},{"s":1,"x":8,"y":0.397},{"s":1,"x":9,"y":0.39},{"s":1,"x":10,"y":0.385},{"s":1,"x":11,"y":0.378},{"s":1,"x":12,"y":0.374},{"s":1,"x":13,"y":0.368},{"s":1,"x":14,"y":0.362},{"s":1,"x":15,"y":0.358},{"s":1,"x":16,"y":0.357},{"s":1,"x":17,"y":0.352},{"s":1,"x":18,"y":0.35},{"s":1,"x":19,"y":0.348},{"s":1,"x":20,"y":0.347},{"s":1,"x":21,"y":0.344},{"s":1,"x":22,"y":0.343},{"s":1,"x":23,"y":0.34},{"s":1,"x":24,"y":0.34},{"s":1,"x":25,"y":0.339},{"s":1,"x":26,"y":0.34},{"s":1,"x":27,"y":0.339},{"s":1,"x":28,"y":0.338},{"s":1,"x":29,"y":0.337},{"s":1,"x":30,"y":0.336},{"s":1,"x":31,"y":0.337},{"s":1,"x":32,"y":0.336},{"s":1,"x":33,"y":0.337},{"s":1,"x":34,"y":0.335},{"s":1,"x":35,"y":0.334},{"s":1,"x":36,"y":0.334},{"s":1,"x":37,"y":0.332},{"s":1,"x":38,"y":0.331},{"s":1,"x":39,"y":0.33},{"s":1,"x":40,"y":0.333},{"s":1,"x":41,"y":0.331},{"s":1,"x":42,"y":0.325},{"s":1,"x":43,"y":0.322},{"s":1,"x":44,"y":0.322},{"s":1,"x":45,"y":0.323},{"s":1,"x":46,"y":0.323},{"s":1,"x":47,"y":0.322},{"s":1,"x":48,"y":0.324},{"s":1,"x":49,"y":0.322},{"s":1,"x":50,"y":0.321},{"s":1,"x":52,"y":0.321},{"s":1,"x":54,"y":0.32},{"s":1,"x":55,"y":0.32},{"s":1,"x":56,"y":0.318},{"s":1,"x":57,"y":0.319},{"s":1,"x":58,"y":0.32},{"s":1,"x":60,"y":0.321},{"s":1,"x":62,"y":0.322},{"s":1,"x":64,"y":0.323},{"s":1,"x":66,"y":0.323},{"s":1,"x":68,"y":0.324},{"s":1,"x":70,"y":0.324},{"s":1,"x":72,"y":0.325},{"s":1,"x":74,"y":0.325},{"s":1,"x":76,"y":0.325},{"s":1,"x":78,"y":0.325},{"s":1,"x":80,"y":0.325},
{"s":2,"x":6,"y":0.42},{"s":2,"x":7,"y":0.405},{"s":2,"x":8,"y":0.397},{"s":2,"x":9,"y":0.39},{"s":2,"x":10,"y":0.384},{"s":2,"x":11,"y":0.378},{"s":2,"x":12,"y":0.372},{"s":2,"x":13,"y":0.366},{"s":2,"x":14,"y":0.363},{"s":2,"x":15,"y":0.356},{"s":2,"x":16,"y":0.358},{"s":2,"x":17,"y":0.352},{"s":2,"x":18,"y":0.348},{"s":2,"x":19,"y":0.345},{"s":2,"x":20,"y":0.344},{"s":2,"x":21,"y":0.343},{"s":2,"x":22,"y":0.342},{"s":2,"x":23,"y":0.34},{"s":2,"x":24,"y":0.338},{"s":2,"x":25,"y":0.337},{"s":2,"x":26,"y":0.337},{"s":2,"x":27,"y":0.334},{"s":2,"x":28,"y":0.333},{"s":2,"x":29,"y":0.331},{"s":2,"x":30,"y":0.329},{"s":2,"x":31,"y":0.331},{"s":2,"x":32,"y":0.332},{"s":2,"x":33,"y":0.334},{"s":2,"x":34,"y":0.334},{"s":2,"x":35,"y":0.333},{"s":2,"x":36,"y":0.332},{"s":2,"x":37,"y":0.331},{"s":2,"x":38,"y":0.33},{"s":2,"x":39,"y":0.328},{"s":2,"x":40,"y":0.327},{"s":2,"x":41,"y":0.326},{"s":2,"x":42,"y":0.323},{"s":2,"x":43,"y":0.321},{"s":2,"x":44,"y":0.319},{"s":2,"x":45,"y":0.32},{"s":2,"x":46,"y":0.321},{"s":2,"x":47,"y":0.322},{"s":2,"x":48,"y":0.323},{"s":2,"x":50,"y":0.322},{"s":2,"x":52,"y":0.322},{"s":2,"x":54,"y":0.322},{"s":2,"x":56,"y":0.322},{"s":2,"x":58,"y":0.323},{"s":2,"x":60,"y":0.323},{"s":2,"x":62,"y":0.323},{"s":2,"x":64,"y":0.324},{"s":2,"x":66,"y":0.324},{"s":2,"x":68,"y":0.324},{"s":2,"x":70,"y":0.325},{"s":2,"x":72,"y":0.325},{"s":2,"x":74,"y":0.325},{"s":2,"x":76,"y":0.325},{"s":2,"x":78,"y":0.326},{"s":2,"x":80,"y":0.326},
{"s":3,"x":6,"y":0.42},{"s":3,"x":7,"y":0.4},{"s":3,"x":8,"y":0.392},{"s":3,"x":9,"y":0.386},{"s":3,"x":10,"y":0.38},{"s":3,"x":11,"y":0.375},{"s":3,"x":12,"y":0.37},{"s":3,"x":13,"y":0.362},{"s":3,"x":14,"y":0.355},{"s":3,"x":15,"y":0.35},{"s":3,"x":16,"y":0.349},{"s":3,"x":17,"y":0.346},{"s":3,"x":18,"y":0.344},{"s":3,"x":19,"y":0.345},{"s":3,"x":20,"y":0.343},{"s":3,"x":21,"y":0.345},{"s":3,"x":22,"y":0.342},{"s":3,"x":23,"y":0.338},{"s":3,"x":24,"y":0.34},{"s":3,"x":25,"y":0.34},{"s":3,"x":26,"y":0.337},{"s":3,"x":27,"y":0.335},{"s":3,"x":28,"y":0.333},{"s":3,"x":29,"y":0.33},{"s":3,"x":30,"y":0.328},{"s":3,"x":31,"y":0.326},{"s":3,"x":32,"y":0.324},{"s":3,"x":33,"y":0.326},{"s":3,"x":34,"y":0.325},{"s":3,"x":35,"y":0.325},{"s":3,"x":36,"y":0.324},{"s":3,"x":37,"y":0.323},{"s":3,"x":38,"y":0.322},{"s":3,"x":39,"y":0.324},{"s":3,"x":40,"y":0.323},{"s":3,"x":41,"y":0.322},{"s":3,"x":42,"y":0.321},{"s":3,"x":43,"y":0.318},{"s":3,"x":44,"y":0.316},{"s":3,"x":45,"y":0.315},{"s":3,"x":46,"y":0.314},{"s":3,"x":47,"y":0.316},{"s":3,"x":48,"y":0.318},{"s":3,"x":49,"y":0.32},{"s":3,"x":50,"y":0.321},{"s":3,"x":52,"y":0.323},{"s":3,"x":54,"y":0.323},{"s":3,"x":56,"y":0.324},{"s":3,"x":58,"y":0.324},{"s":3,"x":60,"y":0.325},{"s":3,"x":62,"y":0.326},{"s":3,"x":64,"y":0.326},{"s":3,"x":66,"y":0.327},{"s":3,"x":68,"y":0.328},{"s":3,"x":70,"y":0.328},{"s":3,"x":72,"y":0.328},{"s":3,"x":74,"y":0.328},{"s":3,"x":76,"y":0.327},{"s":3,"x":78,"y":0.328},{"s":3,"x":80,"y":0.329}
]
},
"spacing":-1,
"vconcat":[
{"spacing":5,"resolve":{"scale":{"color":"independent","x":"independent","y":"independent"},"legend":{"color":"independent"}},
"hconcat":[
{"data":{"name":"p1"},"width":222,"height":154,"title":"ResNet20, CIFAR-10","mark":{"type":"line","clip":true,"strokeWidth":2},
"encoding":{"x":{"field":"x","type":"quantitative","scale":{"domain":[0,80],"nice":false},"axis":{"values":[0,20,40,60,80],"title":"# of iterations (*1000)"}},
"y":{"field":"y","type":"quantitative","scale":{"domain":[0,0.5],"nice":false,"zero":false},"axis":{"values":[0,0.1,0.2,0.3,0.4,0.5],"format":".2~f","title":"Training Error"}},
"color":{"field":"s","type":"nominal","scale":{"domain":[0,1,2,3],"range":["#0072BD","#D95319","#EDB120","#7E2F8E"]},"legend":{"title":null,"labelExpr":"['Last solution','Uniform averaging','Moving averaging','PIWA'][datum.value]"}}}},
{"data":{"name":"p2"},"width":221,"height":154,"title":"ResNet20, CIFAR-10","mark":{"type":"line","clip":true,"strokeWidth":2},
"encoding":{"x":{"field":"x","type":"quantitative","scale":{"domain":[0,80],"nice":false},"axis":{"values":[0,20,40,60,80],"title":"# of iterations (*1000)"}},
"y":{"field":"y","type":"quantitative","scale":{"domain":[0,0.4],"nice":false,"zero":false},"axis":{"values":[0,0.1,0.2,0.3,0.4],"format":".2~f","title":"Testing Error"}},
"color":{"field":"s","type":"nominal","scale":{"domain":[0,1,2,3],"range":["#0072BD","#D95319","#EDB120","#7E2F8E"]},"legend":{"title":null,"labelExpr":"['Last solution','Uniform averaging','Moving averaging','PIWA'][datum.value]"}}}},
{"data":{"name":"p3"},"width":215,"height":154,"title":"PIWA, ResNet20, CIFAR-10","mark":{"type":"line","clip":true,"strokeWidth":2},
"encoding":{"x":{"field":"x","type":"quantitative","scale":{"domain":[0,80],"nice":false},"axis":{"values":[0,20,40,60,80],"title":"# of iterations (*1000)"}},
"y":{"field":"y","type":"quantitative","scale":{"domain":[0,0.15],"nice":false,"zero":false},"axis":{"values":[0,0.05,0.1,0.15],"format":".2~f","title":"Training Error"}},
"color":{"field":"s","type":"nominal","scale":{"domain":[0,1,2,3],"range":["#0072BD","#D95319","#EDB120","#7E2F8E"]},"legend":{"title":null,"labelExpr":"['α = 1','α = 5','α = 10','α = 20'][datum.value]"}}}},
{"data":{"name":"p4"},"width":213,"height":154,"title":"PIWA, ResNet20, CIFAR-10","mark":{"type":"line","clip":true,"strokeWidth":2},
"encoding":{"x":{"field":"x","type":"quantitative","scale":{"domain":[0,80],"nice":false},"axis":{"values":[0,20,40,60,80],"title":"# of iterations (*1000)"}},
"y":{"field":"y","type":"quantitative","scale":{"domain":[0.08,0.14],"nice":false,"zero":false},"axis":{"values":[0.08,0.1,0.12,0.14],"format":".2~f","title":"Testing Error"}},
"color":{"field":"s","type":"nominal","scale":{"domain":[0,1,2,3],"range":["#0072BD","#D95319","#EDB120","#7E2F8E"]},"legend":{"title":null,"labelExpr":"['α = 1','α = 5','α = 10','α = 20'][datum.value]"}}}}
]},
{"spacing":5,"resolve":{"scale":{"color":"independent","x":"independent","y":"independent"},"legend":{"color":"independent"}},
"hconcat":[
{"data":{"name":"p5"},"width":220,"height":154,"title":"ResNet20, CIFAR-100","mark":{"type":"line","clip":true,"strokeWidth":2},
"encoding":{"x":{"field":"x","type":"quantitative","scale":{"domain":[0,80],"nice":false},"axis":{"values":[0,20,40,60,80],"title":"# of iterations (*1000)"}},
"y":{"field":"y","type":"quantitative","scale":{"domain":[0,0.8],"nice":false,"zero":false},"axis":{"values":[0,0.2,0.4,0.6,0.8],"format":".2~f","title":"Training Error"}},
"color":{"field":"s","type":"nominal","scale":{"domain":[0,1,2,3],"range":["#0072BD","#D95319","#EDB120","#7E2F8E"]},"legend":{"title":null,"labelExpr":"['Last solution','Uniformly averaging','Moving averaging','PIWA'][datum.value]"}}}},
{"data":{"name":"p6"},"width":220,"height":154,"title":"ResNet20, CIFAR-100","mark":{"type":"line","clip":true,"strokeWidth":2},
"encoding":{"x":{"field":"x","type":"quantitative","scale":{"domain":[0,80],"nice":false},"axis":{"values":[0,20,40,60,80],"title":"# of iterations (*1000)"}},
"y":{"field":"y","type":"quantitative","scale":{"domain":[0.3,0.7],"nice":false,"zero":false},"axis":{"values":[0.3,0.4,0.5,0.6,0.7],"format":".2~f","title":"Testing Error"}},
"color":{"field":"s","type":"nominal","scale":{"domain":[0,1,2,3],"range":["#0072BD","#D95319","#EDB120","#7E2F8E"]},"legend":{"title":null,"labelExpr":"['Last solution','Uniformly averaging','Moving averaging','PIWA'][datum.value]"}}}},
{"data":{"name":"p7"},"width":221,"height":154,"title":"PIWA, ResNet20, CIFAR-100","mark":{"type":"line","clip":true,"strokeWidth":2},
"encoding":{"x":{"field":"x","type":"quantitative","scale":{"domain":[0,80],"nice":false},"axis":{"values":[0,20,40,60,80],"title":"# of iterations (*1000)"}},
"y":{"field":"y","type":"quantitative","scale":{"domain":[0,0.4],"nice":false,"zero":false},"axis":{"values":[0,0.1,0.2,0.3,0.4],"format":".2~f","title":"Training Error"}},
"color":{"field":"s","type":"nominal","scale":{"domain":[0,1,2,3],"range":["#0072BD","#D95319","#EDB120","#7E2F8E"]},"legend":{"title":null,"labelExpr":"['α = 1','α = 5','α = 10','α = 20'][datum.value]"}}}},
{"data":{"name":"p8"},"width":211,"height":154,"title":"PIWA, ResNet20, CIFAR-100","mark":{"type":"line","clip":true,"strokeWidth":2},
"encoding":{"x":{"field":"x","type":"quantitative","scale":{"domain":[0,80],"nice":false},"axis":{"values":[0,20,40,60,80],"title":"# of iterations (*1000)"}},
"y":{"field":"y","type":"quantitative","scale":{"domain":[0.3,0.4],"nice":false,"zero":false},"axis":{"values":[0.3,0.32,0.34,0.36,0.38,0.4],"format":".2~f","title":"Testing Error"}},
"color":{"field":"s","type":"nominal","scale":{"domain":[0,1,2,3],"range":["#0072BD","#D95319","#EDB120","#7E2F8E"]},"legend":{"title":null,"labelExpr":"['α = 1','α = 5','α = 10','α = 20'][datum.value]"}}}}
]}
],
"config":{
"font":"Liberation Sans",
"view":{"stroke":"#262626","strokeWidth":1},
"title":{"font":"Liberation Sans","fontSize":18,"fontWeight":"bold","color":"#000000","offset":0,"dy":10,"frame":"group","anchor":"middle"},
"axis":{"labelFont":"Liberation Sans","titleFont":"Liberation Sans","labelFontSize":16,"titleFontSize":17.5,"titleFontWeight":"normal","labelColor":"#262626","titleColor":"#262626","domainColor":"#262626","tickColor":"#262626","tickSize":-4,"labelPadding":6,"titlePadding":3,"gridColor":"#e3e3e3","labelFlush":false,"labelOverlap":false},
"axisX":{"labelPadding":8,"titlePadding":8},
"legend":{"orient":"top-right","offset":4,"padding":3,"fillColor":"#ffffff","strokeColor":"#262626","labelFont":"Liberation Sans","labelFontSize":12,"labelColor":"#000000","symbolType":"stroke","symbolStrokeWidth":2,"symbolSize":200,"rowPadding":1,"labelOffset":3,"cornerRadius":0}
}
}
